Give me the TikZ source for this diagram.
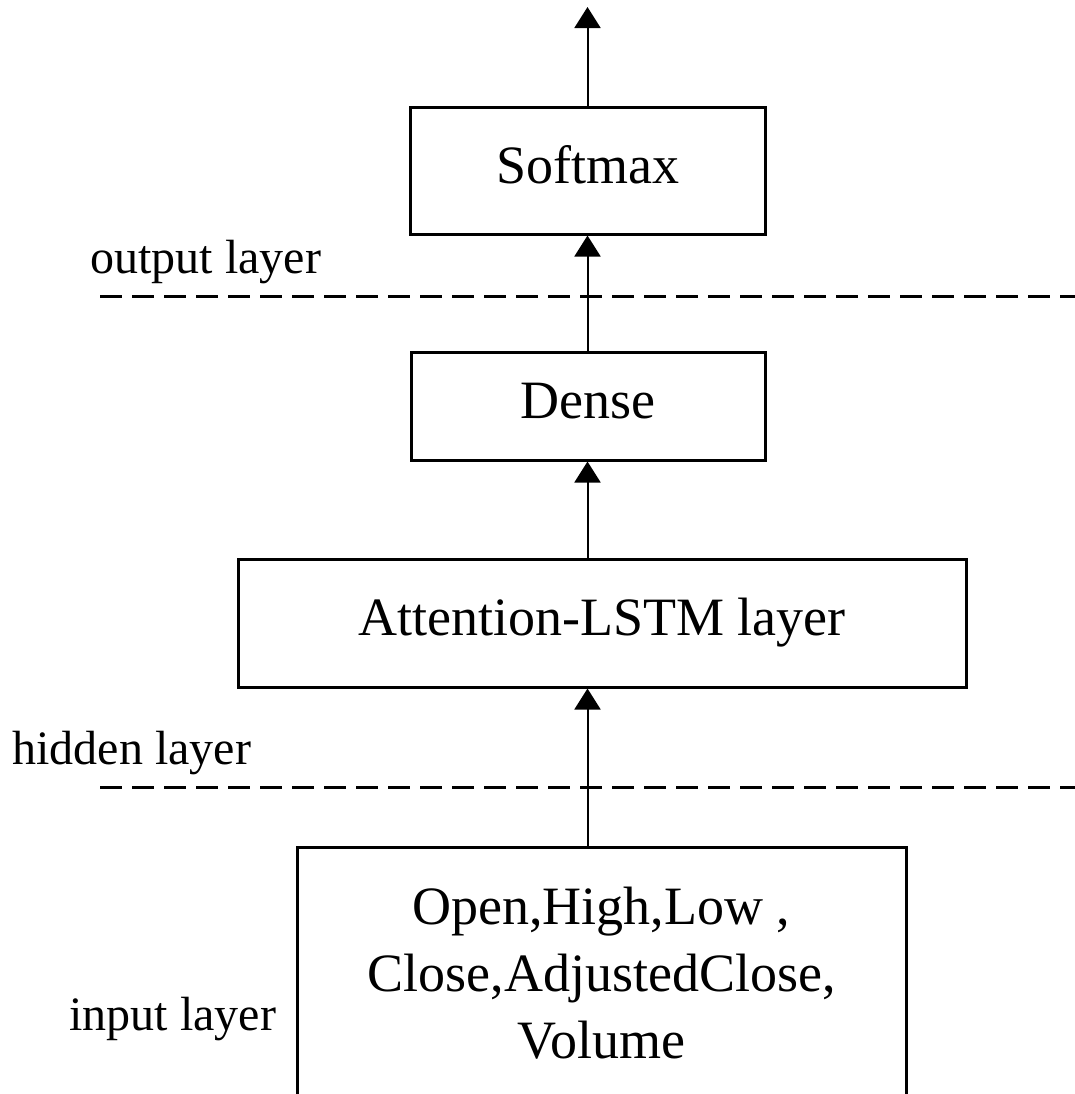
\documentclass[tikz,border=0pt]{standalone}
\usepackage{fontspec}
\setmainfont{Liberation Serif}
\usetikzlibrary{arrows.meta}

\def\boxfont{\fontsize{27pt}{33.5pt}\selectfont}
\def\labfont{\fontsize{24pt}{28pt}\selectfont}
\def\arrx{587.5}

\begin{document}
\begin{tikzpicture}[x=0.5pt, y=-0.5pt]
    \tikzstyle{layer}=[draw, line width=1.5pt, inner sep=0pt, font=\boxfont]
    \tikzstyle{single}=[layer, text height=19pt, text depth=6.5pt]
    \tikzstyle{lab}=[anchor=base west, inner sep=0pt, font=\labfont]
    \tikzstyle{sep}=[line width=1.5pt, dash pattern=on 11pt off 5pt]
    \tikzstyle{flow}=[line width=1pt, -{Triangle[width=13pt,length=10.5pt]}]

    \useasboundingbox (0,0) rectangle (1075,1094);
    \clip (0,0) rectangle (1075,1094);

    \node[single, minimum width=177.5pt, minimum height=63.5pt] (Soft) at (\arrx,170.5) {Softmax};
    \node[single, minimum width=177pt, minimum height=54pt] (Dense) at (588,406) {Dense};
    \node[single, minimum width=364pt, minimum height=64pt] (Att) at (602,623) {Attention-LSTM layer};
    \node[layer, align=center, anchor=north, minimum width=304.5pt, inner ysep=20pt] (In) at (601.5,846)
        {Open,High,Low ,\\Close,AdjustedClose,\\Volume};
    \coordinate (Top) at (\arrx,7);

    \coordinate (O-l) at (100,296);
    \coordinate (O-r) at (1075,296);
    \coordinate (H-l) at (100,787);
    \coordinate (H-r) at (1075,787);
    \draw[sep] (O-l) -- (O-r);
    \draw[sep] (H-l) -- (H-r);

    \node[lab] (O-lab) at (90,273) {output layer};
    \node[lab] (H-lab) at (12,764) {hidden layer};
    \node[lab] (I-lab) at (69,1030) {input layer};

    \draw[flow] (In.north -| Soft.center) -- (Att.south -| Soft.center);
    \draw[flow] (Att.north -| Soft.center) -- (Dense.south -| Soft.center);
    \draw[flow] (Dense.north -| Soft.center) -- (Soft.south);
    \draw[flow] (Soft.north) -- (Top);
\end{tikzpicture}
\end{document}
